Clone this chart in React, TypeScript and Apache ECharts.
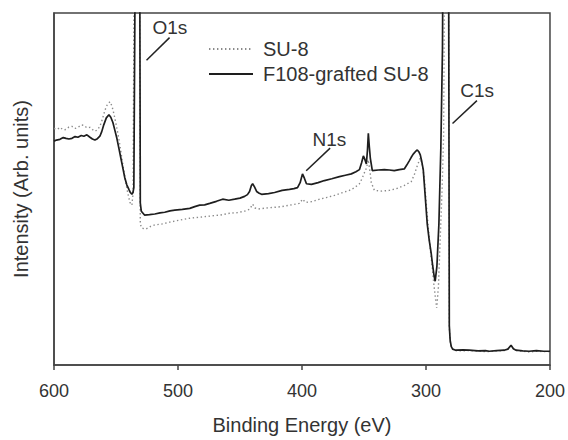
import React, { useEffect, useRef } from "react";
import * as echarts from "echarts";

// SU-8 (dotted) spectrum: binding energy (eV) and intensity (arb. units)
const su8Energy = [
  600, 597, 595.2, 592.5, 590.3, 588, 585.5, 583, 580.7, 578, 575.9, 573.5, 571.0, 569, 567.0, 565, 563.0, 561, 559.0, 557,
  554.9, 553.3, 551.7, 550, 548.5, 546.9, 545.3, 543.7, 542.1, 540.4, 538.8, 537.2, 536.2, 535.4, 533.0, 531.0, 530.4, 529.2,
  526, 522, 518.7, 512, 506.6, 498, 490.5, 482, 474.4, 466, 458.4, 452, 446.3, 442, 439.8, 437.8, 435.8, 429, 422.1, 416,
  410.1, 405, 402.0, 399.6, 397.2, 392, 385.9, 380, 373.8, 368, 361.8, 357.5, 353.7, 351.5, 349.7, 348.0, 346.5, 345.2,
  344.1, 341.6, 336, 329.6, 323, 317.5, 314.5, 311.9, 309.5, 307.0, 304.6, 303.0, 301.4, 299.8, 298.2, 296.6, 295.0, 293.8,
  292.6, 291.4, 290.0, 288.6, 287.0, 285.8, 285.0, 283.8, 281.7, 281.2, 280.4, 279.4, 277, 272, 265, 258, 250, 243, 237,
  233.5, 231.4, 229.5, 227.4, 222, 216.9, 210, 205, 200,
];
const su8Intensity = [
  67.2, 67.0, 67.5, 66.8, 66.9, 67.6, 67.8, 67.2, 67.5, 68.2, 68.1, 67.4, 67.5, 66.9, 66.4, 66.8, 67.8, 69.8, 72.3, 74.0,
  74.8, 73.6, 71.4, 68.5, 65.8, 62.5, 58.8, 55.2, 51.8, 48.7, 46.2, 45.4, 49.0, 110, 300, 110, 40.0, 38.9,
  38.6, 39.4, 39.8, 40.1, 40.6, 41.2, 41.7, 42.0, 42.3, 42.6, 43.1, 43.3, 43.7, 44.3, 45.7, 44.6, 44.3, 44.6, 44.8, 45.0,
  45.4, 45.7, 45.9, 47.1, 46.2, 46.4, 47.1, 47.6, 48.2, 48.9, 49.6, 50.4, 51.5, 53.0, 54.6, 56.0, 58.3, 55.0,
  51.8, 49.6, 49.4, 49.6, 50.2, 51.0, 51.6, 52.1, 54.0, 56.6, 58.8, 56.8, 53.2, 46.0, 39.2, 33.0, 28.0, 23.5,
  19.6, 16.2, 22.0, 35.0, 50.0, 65.0, 110, 300, 110, 10.5, 6.5, 4.8, 4.1, 4.0, 4.1, 3.9, 3.8, 4.0, 4.1,
  4.6, 5.4, 4.6, 4.1, 3.9, 3.7, 3.9, 3.8, 3.8,
];

// F108-grafted SU-8 (solid) spectrum
const f108Energy = [
  600, 598, 595.2, 592.5, 590.3, 588, 585.5, 583, 580.7, 578, 575.9, 573.5, 571.0, 569, 567.0, 565, 563.0, 561.5, 559.8, 557.8,
  555.7, 554.2, 552.5, 551, 549.3, 547.7, 546.1, 544.5, 542.9, 541.3, 539.6, 538.4, 537.2, 536.3, 535.6, 534.6, 532.6, 530.8,
  530.4, 529.6, 527.0, 523, 518.7, 514.5, 510.7, 506.5, 502.6, 496.5, 490.5, 486.5, 482.5, 478.5, 474.4, 469, 464.0, 459,
  454.3, 450, 446.3, 444, 442.3, 440.8, 439.8, 438.3, 436.6, 434.5, 432.6, 427, 422.1, 416, 410.1, 406.5, 403.6, 401.5,
  399.6, 398.0, 396.4, 392.4, 387, 381.9, 376, 369.8, 365, 360.2, 356.5, 353.7, 352.0, 350.5, 349.3, 348.1, 347.2, 346.5,
  345.7, 344.9, 343.3, 338.5, 333.6, 329.5, 325.6, 321.5, 317.5, 315.5, 313.5, 311.9, 310.3, 308.6, 307.0, 305.8, 304.6,
  303.4, 302.2, 300.6, 299.0, 297.4, 295.8, 294.6, 293.4, 292.6, 291.2, 289.6, 288.0, 286.7, 286.4, 284, 281.7, 281.2, 280.5,
  279.6, 278.5, 276, 270, 265.2, 258, 252, 249.1, 243, 237.0, 234, 231.4, 229.5, 227.4, 222, 216.9, 211, 205, 200,
];
const f108Intensity = [
  63.6, 63.9, 64.1, 64.6, 64.4, 64.2, 64.4, 64.9, 64.7, 65.2, 65.0, 65.4, 64.7, 64.2, 63.9, 64.3, 65.0, 66.3, 68.3, 70.2,
  71.1, 70.4, 68.9, 66.8, 64.4, 61.6, 58.8, 56.0, 53.2, 51.2, 49.9, 49.0, 48.5, 49.0, 50.4, 110, 300, 110,
  46.0, 43.7, 42.6, 42.7, 42.9, 43.2, 43.4, 43.8, 44.0, 44.2, 44.5, 45.0, 45.4, 45.5, 45.9, 46.5, 47.1, 46.8,
  47.1, 47.4, 47.9, 48.4, 49.3, 51.0, 51.5, 50.6, 49.3, 48.8, 48.5, 48.7, 49.0, 49.6, 49.9, 50.1, 50.4, 51.8,
  54.3, 53.0, 51.5, 51.3, 51.8, 52.4, 52.9, 53.5, 53.9, 54.3, 54.9, 55.5, 57.4, 59.4, 58.4, 57.1, 61.0, 65.8,
  62.0, 58.8, 55.2, 55.4, 55.5, 55.4, 55.2, 55.5, 55.7, 56.8, 58.0, 59.0, 59.9, 60.6, 61.1, 60.6, 59.7,
  57.8, 55.5, 47.8, 40.1, 35.5, 31.7, 28.2, 25.2, 23.8, 28.0, 40.0, 62.0, 90, 110, 300, 110, 11.2, 7.0,
  5.2, 4.5, 4.2, 4.3, 4.2, 4.0, 4.1, 3.9, 4.1, 4.2, 4.5, 5.6, 4.6, 4.2, 4.0, 3.9, 4.1, 3.9, 3.9,
];

const xTicks = { min: 200, max: 600, step: 100 };

// Peak annotations in data coordinates
const peakLabels = ["O1s", "N1s", "C1s"];
const peakTextPos = [[506.6, 95.8], [377.9, 64.1], [258.7, 78.0]];
const peakLeaderFrom = [[525.4, 86.6], [396.6, 55.2], [278.6, 68.6]];
const peakLeaderTo = [[506.8, 93.0], [377.3, 61.6], [258.9, 75.1]];

const FONT = "'Liberation Sans', Arial, sans-serif";
const zip = (a: number[], b: number[]) => a.map((v, i) => [v, b[i]]);

export default function App() {
  const ref = useRef<HTMLDivElement>(null);
  useEffect(() => {
    document.body.style.margin = "0";
    if (!ref.current) return;
    const chart = echarts.init(ref.current, null, { renderer: "svg" });
    const axisColor = "#444";
    const hidden = "rgba(0,0,0,0)";
    chart.setOption({
      animation: false,
      grid: { left: 54, right: 17, top: 13, bottom: 70, show: true, borderColor: axisColor, borderWidth: 1.5, backgroundColor: "transparent" },
      legend: {
        orient: "vertical",
        left: 203,
        top: 34,
        itemWidth: 44,
        itemHeight: 14,
        itemGap: 5,
        itemStyle: { color: hidden, borderColor: hidden, borderWidth: 0, opacity: 0 },
        textStyle: { fontSize: 20, color: "#333", fontFamily: FONT, padding: [0, 0, 0, 5] },
        data: ["SU-8", "F108-grafted SU-8"],
      },
      xAxis: {
        type: "value",
        min: xTicks.min,
        max: xTicks.max,
        interval: xTicks.step,
        inverse: true,
        name: "Binding Energy (eV)",
        nameLocation: "middle",
        nameGap: 50,
        nameTextStyle: { fontSize: 20, color: "#333", fontFamily: FONT },
        axisLine: { show: true, onZero: false, lineStyle: { color: axisColor, width: 1.5 } },
        axisTick: { show: true, inside: false, length: 5, lineStyle: { color: axisColor, width: 1.5 } },
        axisLabel: { fontSize: 18, color: "#333", fontFamily: FONT, margin: 17 },
        splitLine: { show: false },
      },
      yAxis: {
        type: "value",
        min: 0,
        max: 100,
        name: "Intensity (Arb. units)",
        nameLocation: "middle",
        nameGap: 23,
        nameTextStyle: { fontSize: 20, color: "#333", fontFamily: FONT },
        axisLine: { show: true, lineStyle: { color: axisColor, width: 1.5 } },
        axisTick: { show: false },
        axisLabel: { show: false },
        splitLine: { show: false },
      },
      series: [
        {
          name: "SU-8",
          type: "line",
          data: zip(su8Energy, su8Intensity),
          showSymbol: false,
          symbol: "none",
          clip: true,
          lineStyle: { color: "#8a8a8a", width: 1.4, type: [1.4, 2.6] },
          itemStyle: { color: "#8a8a8a" },
          z: 2,
        },
        {
          name: "F108-grafted SU-8",
          type: "line",
          data: zip(f108Energy, f108Intensity),
          showSymbol: false,
          symbol: "none",
          clip: true,
          lineStyle: { color: "#1e1e1e", width: 1.7 },
          itemStyle: { color: "#1e1e1e" },
          z: 3,
        },
      ],
    });

    const px = (p: number[]) => chart.convertToPixel({ xAxisIndex: 0, yAxisIndex: 0 }, p) as number[];
    const graphics: any[] = [];
    peakLabels.forEach((label, i) => {
      const t = px(peakTextPos[i]);
      const a = px(peakLeaderFrom[i]);
      const b = px(peakLeaderTo[i]);
      graphics.push({
        type: "line",
        shape: { x1: a[0], y1: a[1], x2: b[0], y2: b[1] },
        style: { stroke: "#222", lineWidth: 1.5 },
        silent: true,
      });
      graphics.push({
        type: "text",
        x: t[0],
        y: t[1],
        style: { text: label, fontSize: 19, fill: "#333", fontFamily: FONT, align: "center", verticalAlign: "middle" },
        silent: true,
      });
    });
    chart.setOption({ graphic: graphics });

    return () => chart.dispose();
  }, []);
  return <div ref={ref} style={{ width: 568, height: 440 }} />;
}
